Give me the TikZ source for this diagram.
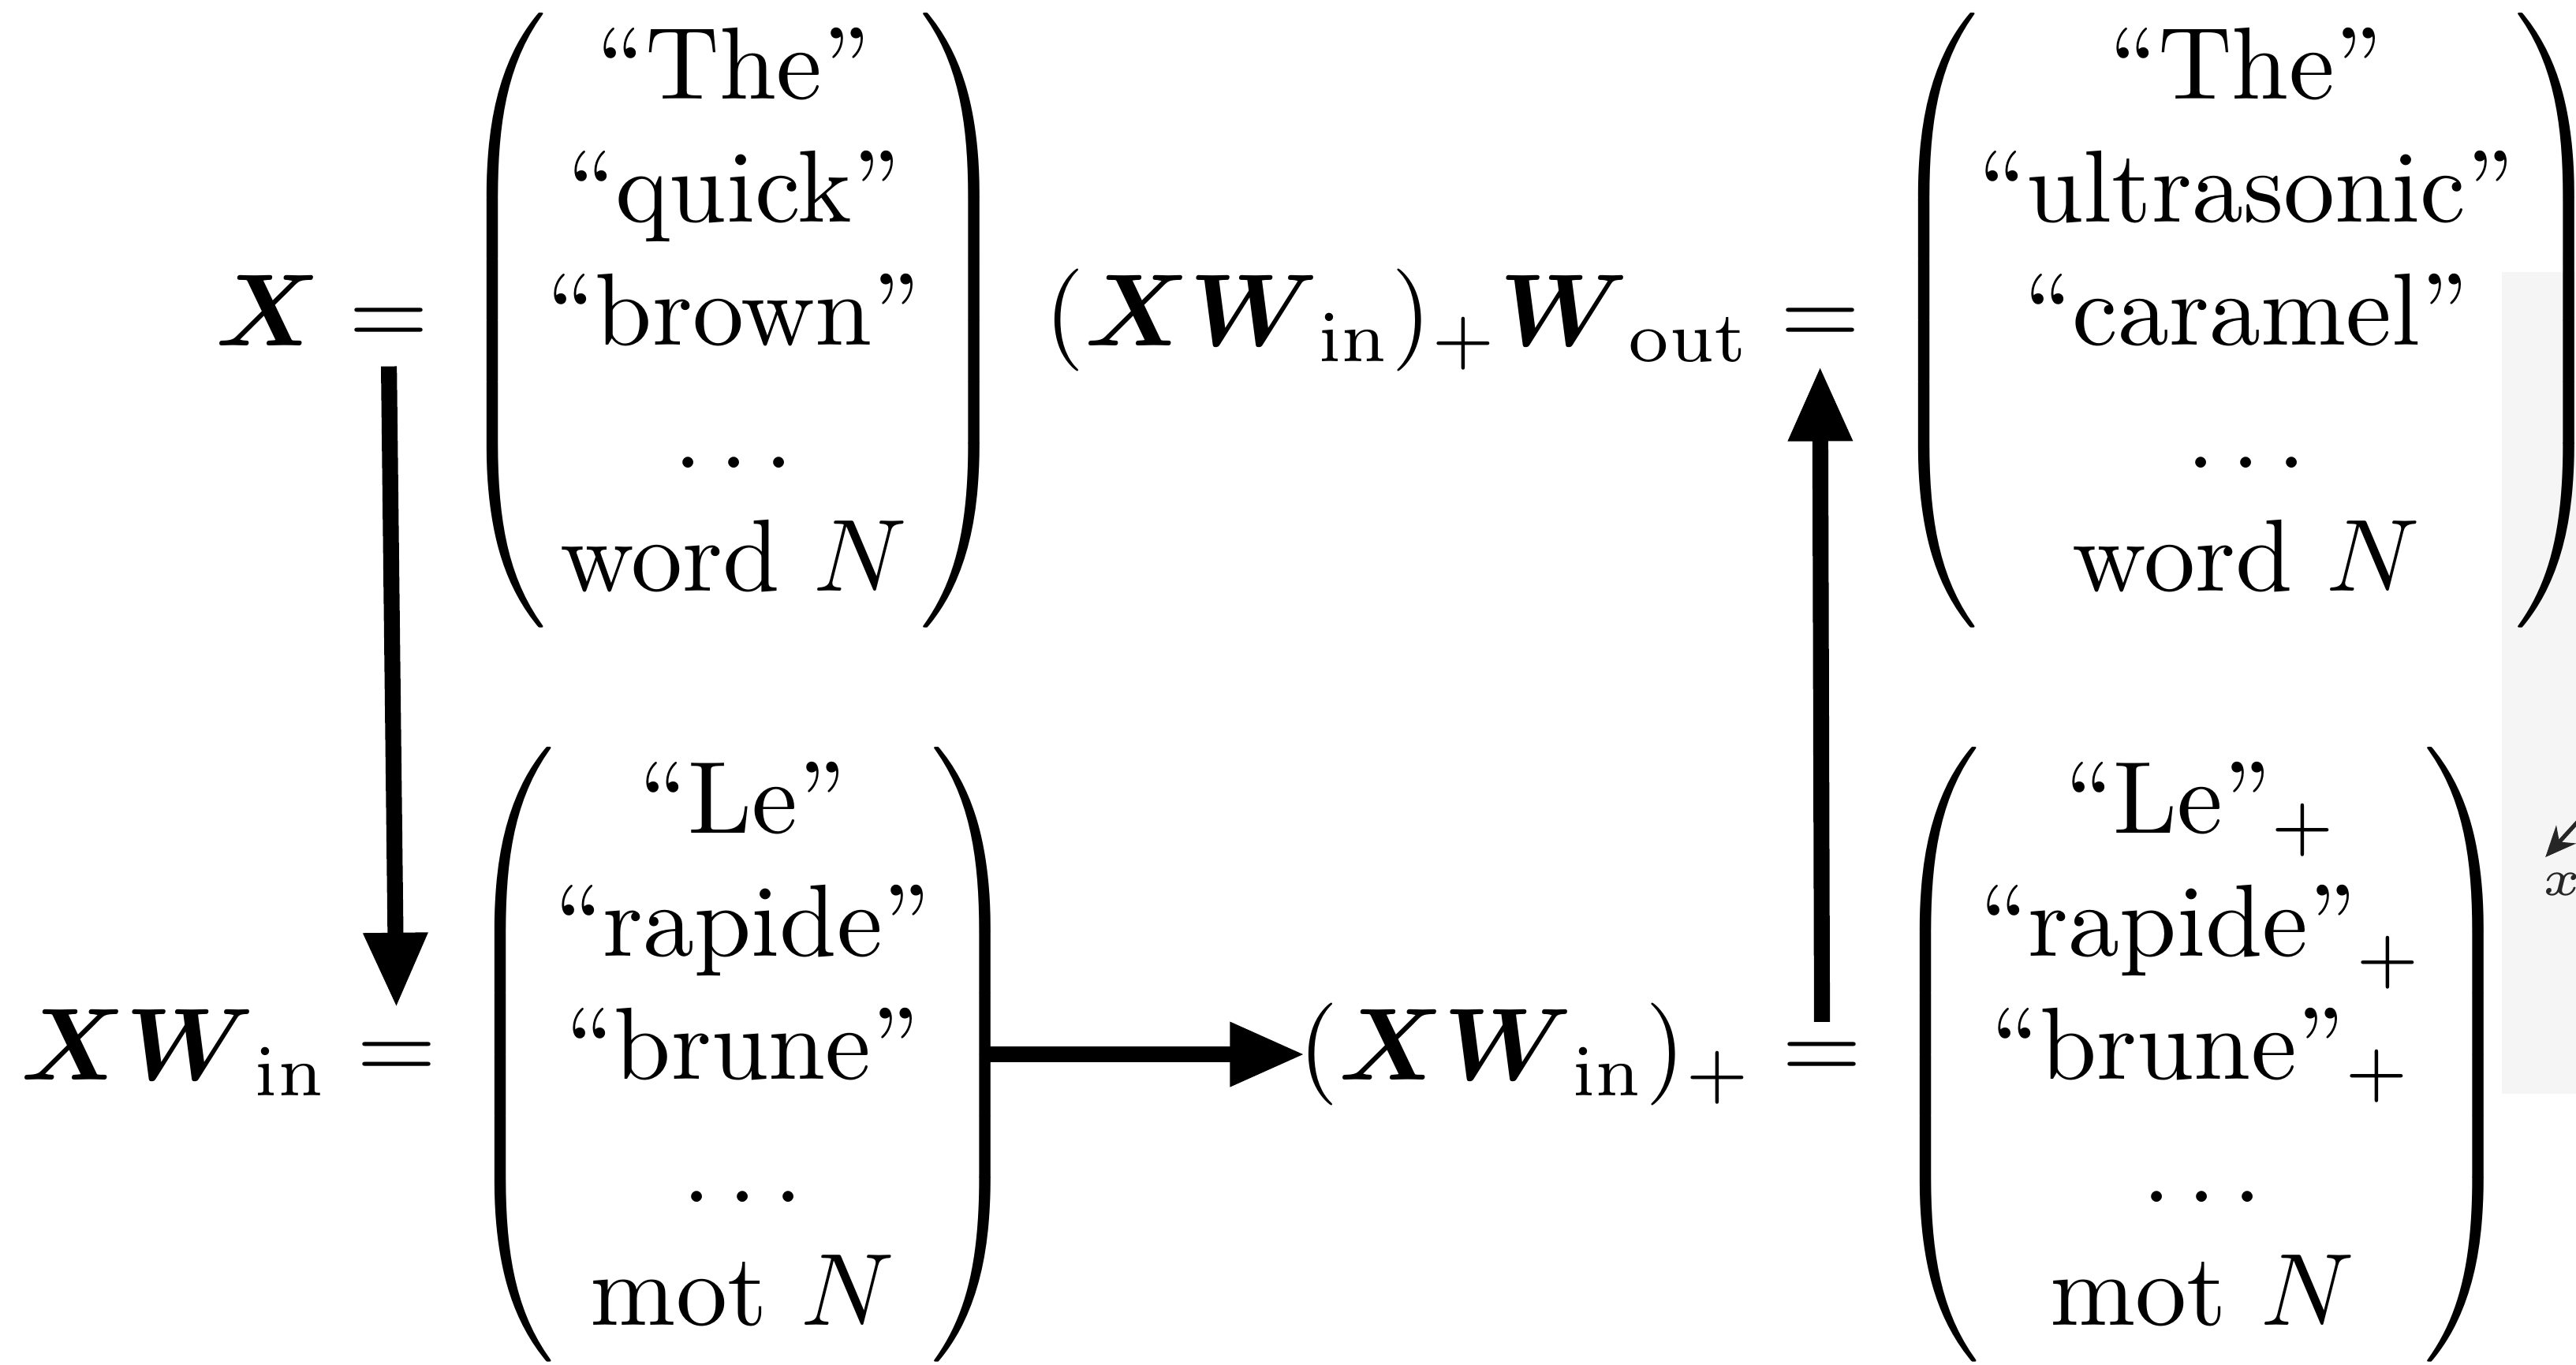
\documentclass[tikz,border=0pt]{standalone}
\usepackage{amsmath,amssymb}
\usepackage{xcolor}
\usepackage{tikz}
\usetikzlibrary{arrows.meta,positioning}
\definecolor{panel}{HTML}{F5F5F5}
\newcommand{\bX}{\boldsymbol{X}}
\newcommand{\bW}{\boldsymbol{W}}
\newcommand{\tok}[1]{\text{``#1''}}

\begin{document}
\begin{tikzpicture}[
  node distance=2.78pt,
  mat/.style={inner sep=0pt, outer sep=0pt},
  lhs/.style={inner sep=0pt, outer sep=0pt},
  eqs/.style={inner xsep=0pt, inner ysep=2pt, outer sep=0pt},
  arr/.style={-{Triangle[length=7.3pt,width=5.9pt]}, line width=1.55pt}
]
\clip (0,0) rectangle (8.830,4.680);
% stray panel at the right edge
\fill[panel] (8.576,0.930) rectangle (8.9,3.747);
\coordinate (ptail) at (8.87,1.90);
\coordinate (ptip) at (8.725,1.741);
\node[font=\tiny, text=black!85, inner sep=0pt] (xlab) at (8.781,1.649) {$x$};
\draw[-{Stealth[length=3pt,width=2.6pt]}, line width=0.4pt, black!85] (ptail) -- (ptip);

% English side
\node[mat] (mA) at (2.515,3.582) {$\begin{pmatrix}
  \tok{The}\\ \tok{quick}\\ \tok{brown}\\ \ldots\\ \text{word } N
\end{pmatrix}$};
\node[eqs, base left=of mA] (eqA) {$=$};
\node[lhs, base left=of eqA] (lhsA) {$\bX$};

\node[mat] (mC) at (7.700,3.582) {$\begin{pmatrix}
  \tok{The}\\ \tok{ultrasonic}\\ \tok{caramel}\\ \ldots\\ \text{word } N
\end{pmatrix}$};
\node[eqs, base left=of mC] (eqC) {$=$};
\node[lhs, base left=of eqC] (lhsC) {$(\bX\bW_{\mathrm{in}})_+\bW_{\mathrm{out}}$};

% French side
\node[mat] (mB) at (2.546,1.065) {$\begin{pmatrix}
  \tok{Le}\\ \tok{rapide}\\ \tok{brune}\\ \ldots\\ \text{mot } N
\end{pmatrix}$};
\node[eqs, base left=of mB] (eqB) {$=$};
\node[lhs, base left=of eqB] (lhsB) {$\bX\bW_{\mathrm{in}}$};

\node[mat] (mD) at (7.549,1.065) {$\begin{pmatrix}
  \tok{Le}_+\\ \tok{rapide}_+\\ \tok{brune}_+\\ \ldots\\ \text{mot } N
\end{pmatrix}$};
\node[eqs, base left=of mD] (eqD) {$=$};
\node[lhs, base left=of eqD] (lhsD) {$(\bX\bW_{\mathrm{in}})_+$};

\draw[arr, shorten >=1.4pt] (eqA.south) -- (eqB.north);
\draw[arr, shorten <=-3pt, shorten >=-0.6pt] (mB.east) -- (mB.east -| lhsD.west);
\draw[arr] (eqD.north) -- (eqC.south);
\end{tikzpicture}
\end{document}
